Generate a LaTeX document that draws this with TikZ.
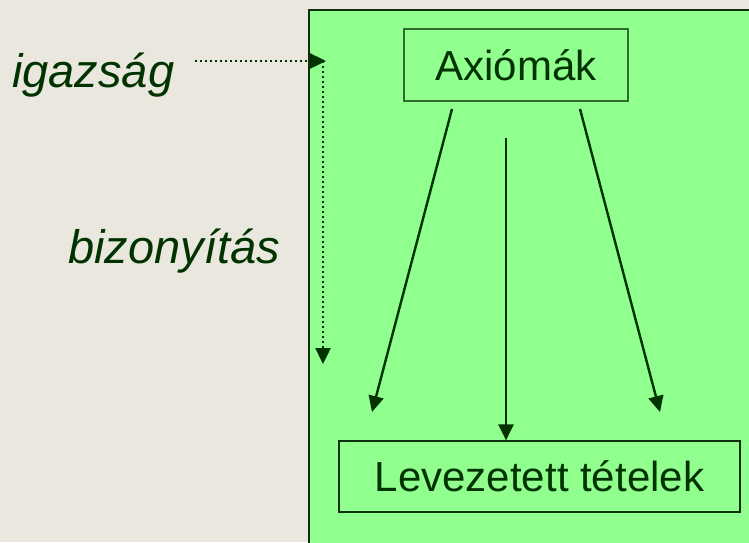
\documentclass[tikz,border=0pt]{standalone}
\usepackage{fontspec}
\setmainfont{Liberation Sans}
\usetikzlibrary{arrows.meta}
\definecolor{bgbeige}{HTML}{EAE8DE}
\definecolor{panelgreen}{HTML}{90FF8E}
\definecolor{darkgreen}{HTML}{003300}
\definecolor{panelborder}{HTML}{0D2F0D}
\definecolor{boxborder}{HTML}{2E6B2E}
\tikzset{
  conn/.style={line width=2.4pt, draw=darkgreen, -{Triangle[length=16pt,width=15pt]}},
  dotconn/.style={line width=2.4pt, draw=darkgreen, dash pattern=on 2.2pt off 2.8pt, -{Triangle[length=16pt,width=15pt]}},
  boxA/.style={draw=boxborder, line width=2pt, minimum width=224pt, minimum height=72pt, inner sep=0pt, text height=30pt, text depth=0pt, font=\fontsize{42}{50}\selectfont, text=darkgreen},
  boxL/.style={draw=panelborder, line width=1.2pt, minimum width=401pt, minimum height=71pt, inner sep=0pt, text height=30pt, text depth=0pt, font=\fontsize{42}{50}\selectfont, text=darkgreen},
  lbl/.style={inner sep=0pt, anchor=base west, font=\fontsize{47}{55}\selectfont\itshape, text=darkgreen}
}
\begin{document}
\begin{tikzpicture}[x=1pt,y=1pt]
\useasboundingbox (0,0) rectangle (749,-542);
\fill[bgbeige] (0,0) rectangle (749,-542);
\draw[fill=panelgreen, draw=panelborder, line width=2.5pt] (309,-10) rectangle (770,-570);
\node[boxA] (ax) at (516,-65) {Axiómák};
\node[boxL] (lev) at (539.5,-476.5) {Levezetett tételek};
\node[lbl] (igaz) at (12,-87) {igazság};
\node[lbl] (biz) at (68,-263) {bizonyítás};
\coordinate (d0) at (195,-61);
\coordinate (d1) at (326,-61);
\coordinate (v0) at (323,-61);
\coordinate (v1) at (323,-364);
\coordinate (l0) at (452,-109);
\coordinate (l1) at (372,-412);
\coordinate (r0) at (580,-109);
\coordinate (r1) at (660,-412);
\coordinate (m0) at (506,-138);
\draw[dotconn] (d0) -- (d1);
\draw[dotconn] (v0) -- (v1);
\draw[conn] (l0) -- (l1);
\draw[conn] (r0) -- (r1);
\draw[conn] (m0) -- (m0 |- lev.north);
\end{tikzpicture}
\end{document}
